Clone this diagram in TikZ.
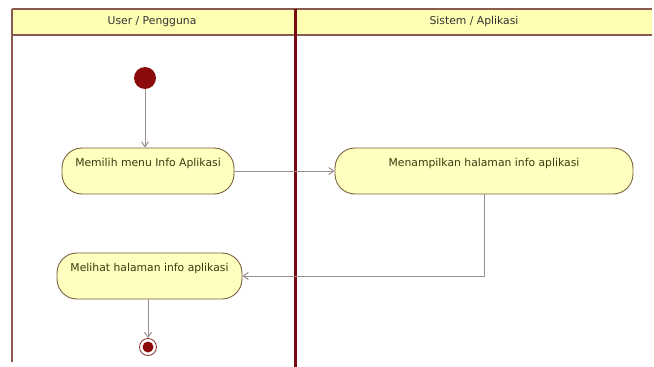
\documentclass[tikz,border=0pt]{standalone}
\usepackage{fontspec}
\setmainfont{DejaVu Sans}
\usetikzlibrary{arrows.meta}
\definecolor{actfill}{HTML}{FFFFC0}
\definecolor{actborder}{HTML}{7A6040}
\definecolor{hdrfill}{HTML}{FFFFB4}
\definecolor{hdrline}{HTML}{8A5A50}
\definecolor{lane}{HTML}{7A0A12}
\definecolor{conn}{HTML}{9A8C8C}
\definecolor{dot}{HTML}{8B0A0A}
\definecolor{txt}{HTML}{3A3A10}
\tikzset{
  action/.style={draw=actborder, fill=actfill, rounded corners=20pt, line width=0.9pt,
    inner sep=3pt, text height=15pt, text depth=25pt, font=\fontsize{10.8}{12}\selectfont,
    text=txt, align=center},
  flow/.style={draw=conn, line width=1pt, -{Straight Barb[length=5pt,width=7pt]}},
  hdrtext/.style={font=\fontsize{10.8}{12}\selectfont, text=black!80},
}
\begin{document}
\begin{tikzpicture}[x=1pt,y=-1pt]
\useasboundingbox (0,0) rectangle (654,367);
% header band
\fill[hdrfill] (12,9) rectangle (652,35);
\draw[hdrline, line width=1.6pt] (12,9) -- (652,9);
\draw[hdrline, line width=1.6pt] (12,35) -- (652,35);
% lanes
\draw[hdrline, line width=1.8pt] (12,9) -- (12,362);
\draw[lane, line width=3pt] (295,9) -- (295,367);
\node[hdrtext] (h1) at (152,22) {User / Pengguna};
\node[hdrtext] (h2) at (474,22) {Sistem / Aplikasi};
% nodes
\node[circle, fill=dot, minimum size=22pt, inner sep=0pt] (start) at (145,78) {};
\node[action, minimum width=172pt] (a1) at (148,171) {Memilih menu Info Aplikasi};
\node[action, minimum width=298pt] (a2) at (484,171) {Menampilkan halaman info aplikasi};
\node[action, minimum width=185pt] (a3) at (149.5,276) {Melihat halaman info aplikasi};
\node[circle, draw=dot!70!gray, line width=0.8pt, fill=white, minimum size=17pt, inner sep=0pt] (end) at (148,347) {};
\node[circle, fill=dot, minimum size=11pt, inner sep=0pt] (endin) at (end) {};
% connectors
\draw[flow] (start) -- (start |- a1.north);
\draw[flow] (a1) -- (a2);
\draw[flow] (a2.south) |- (a3.east);
\draw[flow] (a3.south -| end) -- (end);
\end{tikzpicture}
\end{document}
